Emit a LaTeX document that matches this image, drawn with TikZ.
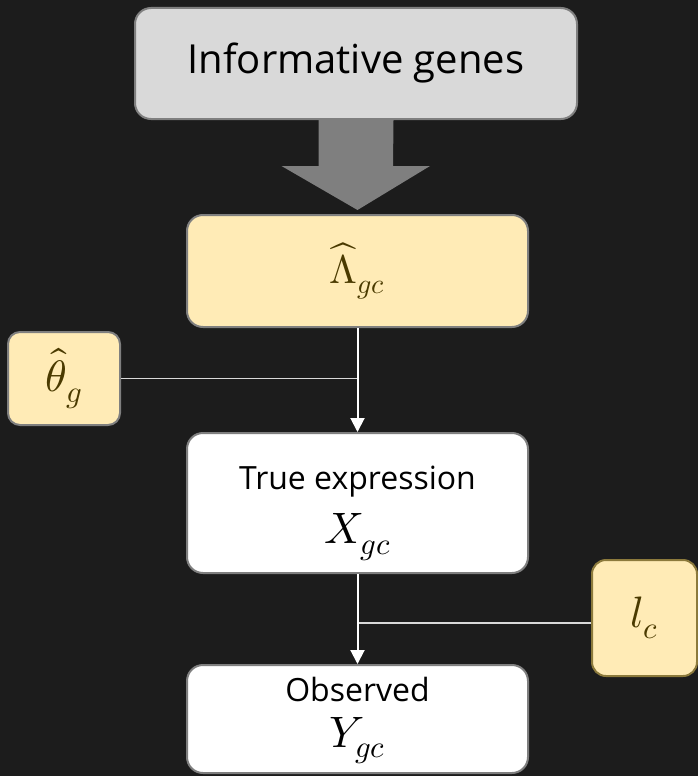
\documentclass[tikz,border=0pt]{standalone}
\usepackage{amsmath}
\usepackage{fontspec}
\usepackage{unicode-math}
\setmainfont{Open Sans}
\setmathfont{Latin Modern Math}
\usepackage{tikz}
\usetikzlibrary{positioning, calc, arrows.meta}
\definecolor{cBg}{HTML}{1C1C1C}
\definecolor{cGrey}{HTML}{D9D9D9}
\definecolor{cEdge}{HTML}{7F7F7F}
\definecolor{cYel}{HTML}{FFEBB6}
\definecolor{cBrn}{HTML}{4A3A00}
\definecolor{cGold}{HTML}{8C7A3C}

\begin{document}
\begin{tikzpicture}[x=1pt, y=-1pt, >={Triangle[width=14pt,length=14pt]}]

    % --- Background ---
    \useasboundingbox[fill=cBg] (0,0) rectangle (698,776);

    \tikzset{
        box/.style={draw=cEdge, line width=2pt, rounded corners=16pt, inner sep=0pt, align=center},
        greybox/.style={box, fill=cGrey, text=black},
        yelbox/.style={box, fill=cYel, text=cBrn},
        whitebox/.style={box, fill=white, text=black},
        flow/.style={white, line width=2pt, ->},
        feed/.style={cGrey, line width=1.5pt}
    }

    % --- Boxes ---
    \node[greybox, minimum width=442pt, minimum height=111pt, font=\fontsize{40}{48}\selectfont]
        (genes) at (356, 63.5) {Informative genes};
    \node[yelbox, minimum width=341pt, minimum height=112pt, font=\fontsize{40}{44}\selectfont]
        (lambda) at (357.5, 271) {$\widehat{\Lambda}_{gc}$};
    \node[yelbox, rounded corners=12pt, minimum width=112pt, minimum height=93pt, font=\fontsize{44}{50}\selectfont]
        (theta) at (64, 378.5) {$\hat{\theta}_g$};
    \node[whitebox, minimum width=341pt, minimum height=140pt]
        (truex) at (357.5, 503) {\fontsize{32}{34}\selectfont\rule{0pt}{44pt}True expression\\[16pt]\fontsize{44}{46}\selectfont$X_{gc}$};
    \node[whitebox, minimum width=341pt, minimum height=108pt]
        (obs) at (357.5, 719) {\fontsize{32}{34}\selectfont\rule{0pt}{28pt}Observed\\[14pt]\fontsize{44}{46}\selectfont$Y_{gc}$};
    \node[yelbox, draw=cGold, rounded corners=14pt, minimum width=105pt, minimum height=116pt, font=\fontsize{44}{50}\selectfont]
        (lc) at (644.5, 618) {$l_c$};

    % --- Block arrow ---
    \fill[cEdge] ($(genes.south)+(-37.5,0)$) -- ++(0,46) -- ++(-37,0)
        -- ($(lambda.north)+(0,-4)$) -- ($(genes.south)+(74,46)$)
        -- ++(-37,0) -- ($(genes.south)+(37.5,0)$) -- cycle;

    % --- Connectors ---
    \coordinate (j1) at (lambda.south |- theta.east);
    \coordinate (j2) at ($(truex.south |- lc.west)+(0,5)$);
    \draw[feed] (theta.east) -- (j1);
    \draw[feed] ($(lc.west)+(0,5)$) -- (j2);
    \draw[flow] (lambda.south) -- (truex.north);
    \draw[flow] (truex.south) -- (obs.north);

\end{tikzpicture}
\end{document}
